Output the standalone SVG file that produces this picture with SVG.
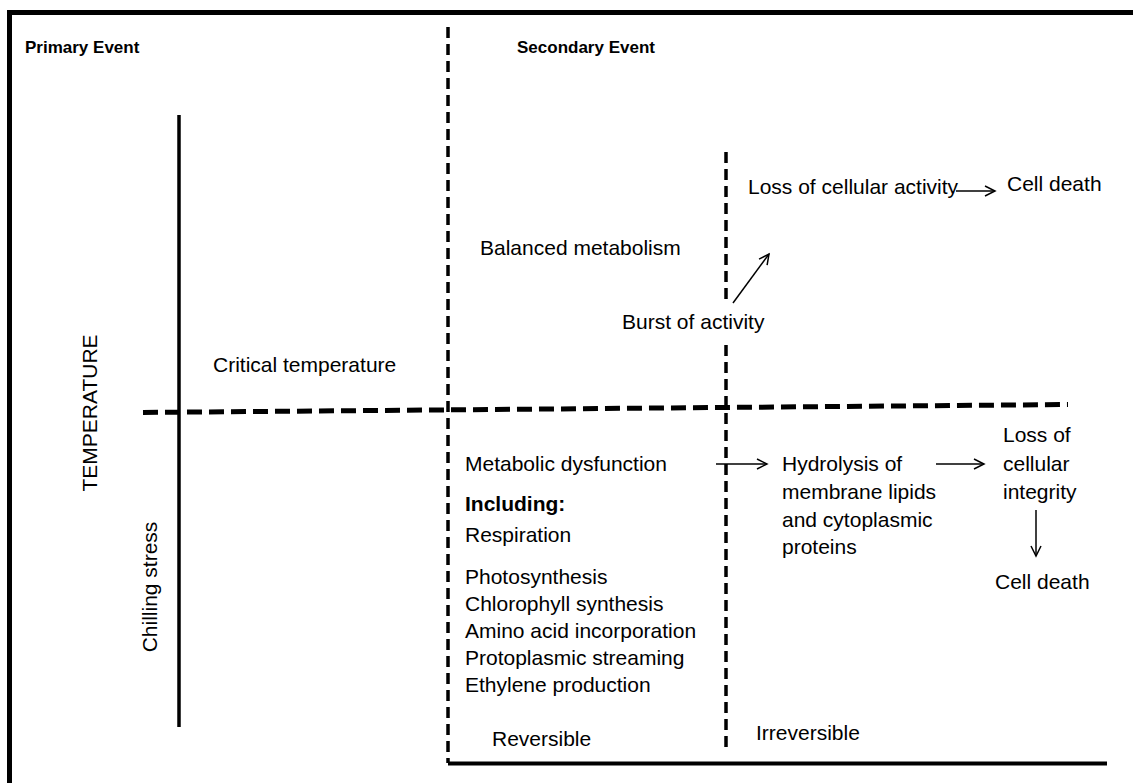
<svg xmlns="http://www.w3.org/2000/svg" width="1133" height="783" viewBox="0 0 1133 783">
<style>
text{font-family:"Liberation Sans",Arial,sans-serif;font-size:21px;fill:#000}
.h{font-weight:bold;font-size:17px}
.solid{stroke:#000;fill:none}
.dash{stroke:#000;fill:none;stroke-width:3.5;stroke-dasharray:11 6}
.hdash{stroke:#000;fill:none;stroke-width:5;stroke-dasharray:15 7}
.arr{stroke:#000;stroke-width:1.5;fill:none;marker-end:url(#ah)}
</style>
<defs>
<marker id="ah" markerWidth="14" markerHeight="14" refX="11" refY="6" orient="auto" markerUnits="userSpaceOnUse">
<path d="M1,1 L11,6 L1,11" fill="none" stroke="#000" stroke-width="1.5"/>
</marker>
</defs>
<rect width="1133" height="783" fill="#fff"/>
<g id="frame">
<path class="solid" d="M9.5,783 V12.5 H1133" stroke-width="5"/>
<path class="solid" d="M448,763.5 H1107" stroke-width="4"/>
<path class="dash" d="M448,27 V763"/>
<path class="solid" d="M179,115 V727" stroke-width="3.5"/>
<path class="hdash" d="M143,412.5 L1068,404.5"/>
<path class="dash" d="M726,152 V300"/>
<path class="dash" d="M726,345 V752"/>
</g>
<g id="connectors">
<line class="arr" x1="956" y1="191" x2="995" y2="191"/>
<line class="arr" x1="733" y1="303" x2="769" y2="254"/>
<line class="arr" x1="716" y1="464" x2="767" y2="464"/>
<line class="arr" x1="936" y1="464" x2="984" y2="464"/>
<line class="arr" x1="1036" y1="510" x2="1036" y2="556"/>
</g>
<g id="headings">
<text class="h" x="25" y="53">Primary Event</text>
<text class="h" x="517" y="53">Secondary Event</text>
</g>
<g id="axis">
<text transform="translate(97,413) rotate(-90)" text-anchor="middle">TEMPERATURE</text>
<text transform="translate(157,587) rotate(-90)" text-anchor="middle">Chilling stress</text>
<text x="213" y="372">Critical temperature</text>
</g>
<g id="n-loss-activity"><text x="748" y="194">Loss of cellular activity</text></g>
<g id="n-cell-death-1"><text x="1007" y="191">Cell death</text></g>
<g id="n-balanced"><text x="480" y="255">Balanced metabolism</text></g>
<g id="n-burst"><text x="622" y="329">Burst of activity</text></g>
<g id="n-metabolic">
<text x="465" y="471">Metabolic dysfunction</text>
<text x="465" y="511" font-weight="bold">Including:</text>
<text x="465" y="542">Respiration</text>
<text x="465" y="584">Photosynthesis</text>
<text x="465" y="611">Chlorophyll synthesis</text>
<text x="465" y="638">Amino acid incorporation</text>
<text x="465" y="665">Protoplasmic streaming</text>
<text x="465" y="692">Ethylene production</text>
</g>
<g id="n-hydrolysis">
<text x="782" y="471">Hydrolysis of</text>
<text x="782" y="499">membrane lipids</text>
<text x="782" y="527">and cytoplasmic</text>
<text x="782" y="554">proteins</text>
</g>
<g id="n-loss-integrity">
<text x="1003" y="442">Loss of</text>
<text x="1003" y="471">cellular</text>
<text x="1003" y="499">integrity</text>
</g>
<g id="n-cell-death-2"><text x="995" y="589">Cell death</text></g>
<g id="footer">
<text x="492" y="746">Reversible</text>
<text x="756" y="740">Irreversible</text>
</g>
</svg>
